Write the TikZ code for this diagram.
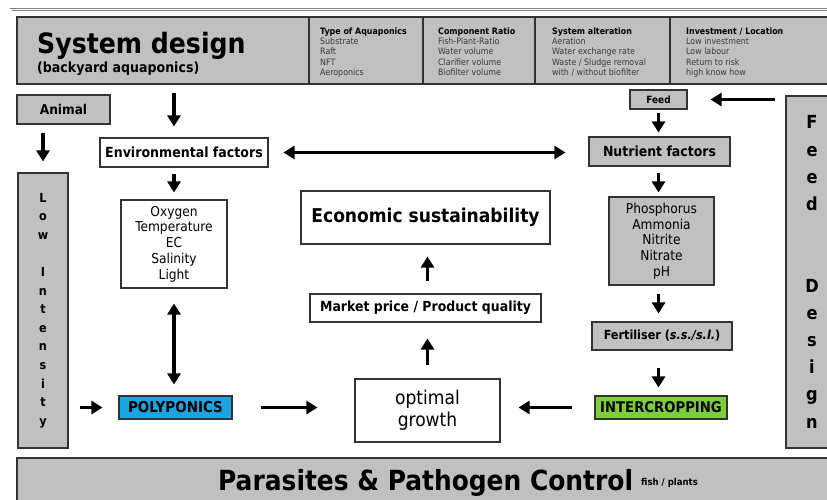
\documentclass[tikz,border=0pt]{standalone}
\usepackage{fontspec}
\setmainfont{DejaVu Sans Condensed}
\usetikzlibrary{arrows.meta}

\definecolor{boxgray}{RGB}{192,192,192}
\definecolor{polyblue}{RGB}{28,163,226}
\definecolor{intergreen}{RGB}{124,206,58}
\definecolor{listgray}{RGB}{58,58,58}

\begin{document}
\begin{tikzpicture}[x=1pt, y=-1pt,
  box/.style={draw=black!80, line width=1.1pt, inner sep=0pt, align=center},
  whitebox/.style={box, fill=white},
  graybox/.style={box, fill=boxgray},
  arr/.style={line width=3.2pt, -{Triangle[width=13pt,length=11pt]}},
  dbl/.style={line width=3.2pt, {Triangle[width=13pt,length=11pt]}-{Triangle[width=13pt,length=11pt]}},
  coltext/.style={anchor=base west, inner sep=0pt, align=left, font=\fontsize{8.8}{10.2}\selectfont, text=listgray}]
\useasboundingbox (0,0) rectangle (827,499);
\clip (0,0) rectangle (827,499);

% outer frame
\draw[gray, line width=0.6pt, double, double distance=1.6pt] (11,9.5) rectangle (900,600);

% header
\node[graybox, minimum width=833, minimum height=67] (header) at (433.5,50.5) {};
\foreach \xx in {309,423,535,670}
  \draw[black!80, line width=1.1pt] (\xx,17) -- (\xx,84);
\node[anchor=base west, inner sep=0pt, font=\bfseries\fontsize{28}{30}\selectfont] (title) at (37,53) {System design};
\node[anchor=base west, inner sep=0pt, font=\bfseries\fontsize{14}{16}\selectfont] (subtitle) at (37,72) {(backyard aquaponics)};
% base anchor sits on the last line
\node[coltext] (type) at (320,75.3) {\textbf{\color{black}Type of Aquaponics}\\Substrate\\Raft\\NFT\\Aeroponics};
\node[coltext] (ratio) at (438,75.3) {\textbf{\color{black}Component Ratio}\\Fish-Plant-Ratio\\Water volume\\Clarifier volume\\Biofilter volume};
\node[coltext] (alter) at (552,75.3) {\textbf{\color{black}System alteration}\\Aeration\\Water exchange rate\\Waste / Sludge removal\\with / without biofilter};
\node[coltext] (invest) at (686,75.3) {\textbf{\color{black}Investment / Location}\\Low investment\\Low labour\\Return to risk\\high know how};

% left side
\node[graybox, minimum width=93, minimum height=29, font=\bfseries\fontsize{13.5}{15}\selectfont] (animal) at (63.5,109.5) {Animal};
\node[graybox, minimum width=50, minimum height=275, font=\bfseries\fontsize{12.5}{18.6}\selectfont] (low) at (43,310.5)
  {L\\o\\w\\\mbox{}\\I\\n\\t\\e\\n\\s\\i\\t\\y};
\node[whitebox, minimum width=168, minimum height=29, font=\bfseries\fontsize{14}{15}\selectfont] (env) at (184,152.5) {Environmental factors};
\node[whitebox, minimum width=106, minimum height=88, font=\fontsize{13.6}{15.7}\selectfont] (oxy) at (174,244)
  {Oxygen\\Temperature\\EC\\Salinity\\Light};
\node[box, fill=polyblue, minimum width=113, minimum height=23, font=\bfseries\fontsize{15}{16}\selectfont] (poly) at (175.5,407.5) {POLYPONICS};

% middle
\node[whitebox, minimum width=249, minimum height=53, font=\bfseries\fontsize{19}{21}\selectfont] (econ) at (425.5,217.5) {Economic sustainability};
\node[whitebox, minimum width=231, minimum height=28, font=\bfseries\fontsize{13.9}{15}\selectfont] (market) at (425.5,308) {Market price / Product quality};
\node[whitebox, minimum width=145, minimum height=63, font=\fontsize{19}{22}\selectfont] (growth) at (427.5,410.5) {optimal\\growth};

% right side
\node[graybox, minimum width=57, minimum height=19, font=\bfseries\fontsize{10}{11}\selectfont] (feed) at (658.5,99.5) {Feed};
\node[graybox, minimum width=141, minimum height=29, font=\bfseries\fontsize{13.9}{15}\selectfont] (nut) at (659.5,151.5) {Nutrient factors};
\node[graybox, minimum width=105, minimum height=88, font=\fontsize{13.6}{15.7}\selectfont] (phos) at (661.5,241)
  {Phosphorus\\Ammonia\\Nitrite\\Nitrate\\pH};
\node[graybox, minimum width=140, minimum height=28, font=\bfseries\fontsize{12.5}{14}\selectfont] (fert) at (662,336) {Fertiliser (\textit{s.s./s.l.})};
\node[box, fill=intergreen, minimum width=132, minimum height=23, font=\bfseries\fontsize{14.7}{16}\selectfont] (inter) at (661,407.5) {INTERCROPPING};
\node[graybox, minimum width=52, minimum height=352, font=\bfseries\fontsize{18}{27.2}\selectfont] (fd) at (812,272)
  {F\\e\\e\\d\\\mbox{}\\\mbox{}\\D\\e\\s\\i\\g\\n};

% bottom bar
\node[graybox, minimum width=833, minimum height=62] (pest) at (433.5,489) {};
\node[anchor=base west, inner sep=0pt, font=\bfseries\fontsize{27.7}{30}\selectfont] (pesttext) at (218,490) {Parasites \& Pathogen Control};
\node[anchor=base west, inner sep=0pt, font=\bfseries\fontsize{9.5}{11}\selectfont] (pestsub) at (641,485) {fish / plants};

% connectors
\draw[arr, shorten <=8, shorten >=11] (header.south -| oxy) -- (env.north -| oxy);
\draw[arr, shorten <=8, shorten >=11] (animal.south -| low) -- (low.north);
\draw[arr, shorten <=6, shorten >=7] (env.south -| oxy) -- (oxy.north);
\draw[dbl, shorten <=15, shorten >=23] (env.east) -- (env.east -| nut.west);
\draw[dbl, shorten <=15, shorten >=11] (oxy.south) -- (oxy.south |- poly.north);
\draw[arr, shorten <=11, shorten >=16] (low.east |- poly) -- (poly.west);
\draw[arr, shorten <=28, shorten >=37] (poly.east) -- (poly.east -| growth.west);
\draw[arr, shorten <=22, shorten >=18] (inter.west) -- (inter.west -| growth.east);
\draw[arr, shorten <=13, shorten >=16] (growth.north) -- (growth.north |- market.south);
\draw[arr, shorten <=12, shorten >=12] (market.north -| growth) -- (econ.south -| growth);
\draw[arr, shorten <=10, shorten >=23] (fd.west |- feed) -- (feed.east);
\draw[arr, shorten <=3, shorten >=4] (feed.south) -- (feed.south |- nut.north);
\draw[arr, shorten <=6, shorten >=4] (nut.south -| feed) -- (phos.north -| feed);
\draw[arr, shorten <=8, shorten >=8] (phos.south -| feed) -- (fert.north -| feed);
\draw[arr, shorten <=17, shorten >=8] (fert.south -| feed) -- (inter.north -| feed);
\end{tikzpicture}
\end{document}
